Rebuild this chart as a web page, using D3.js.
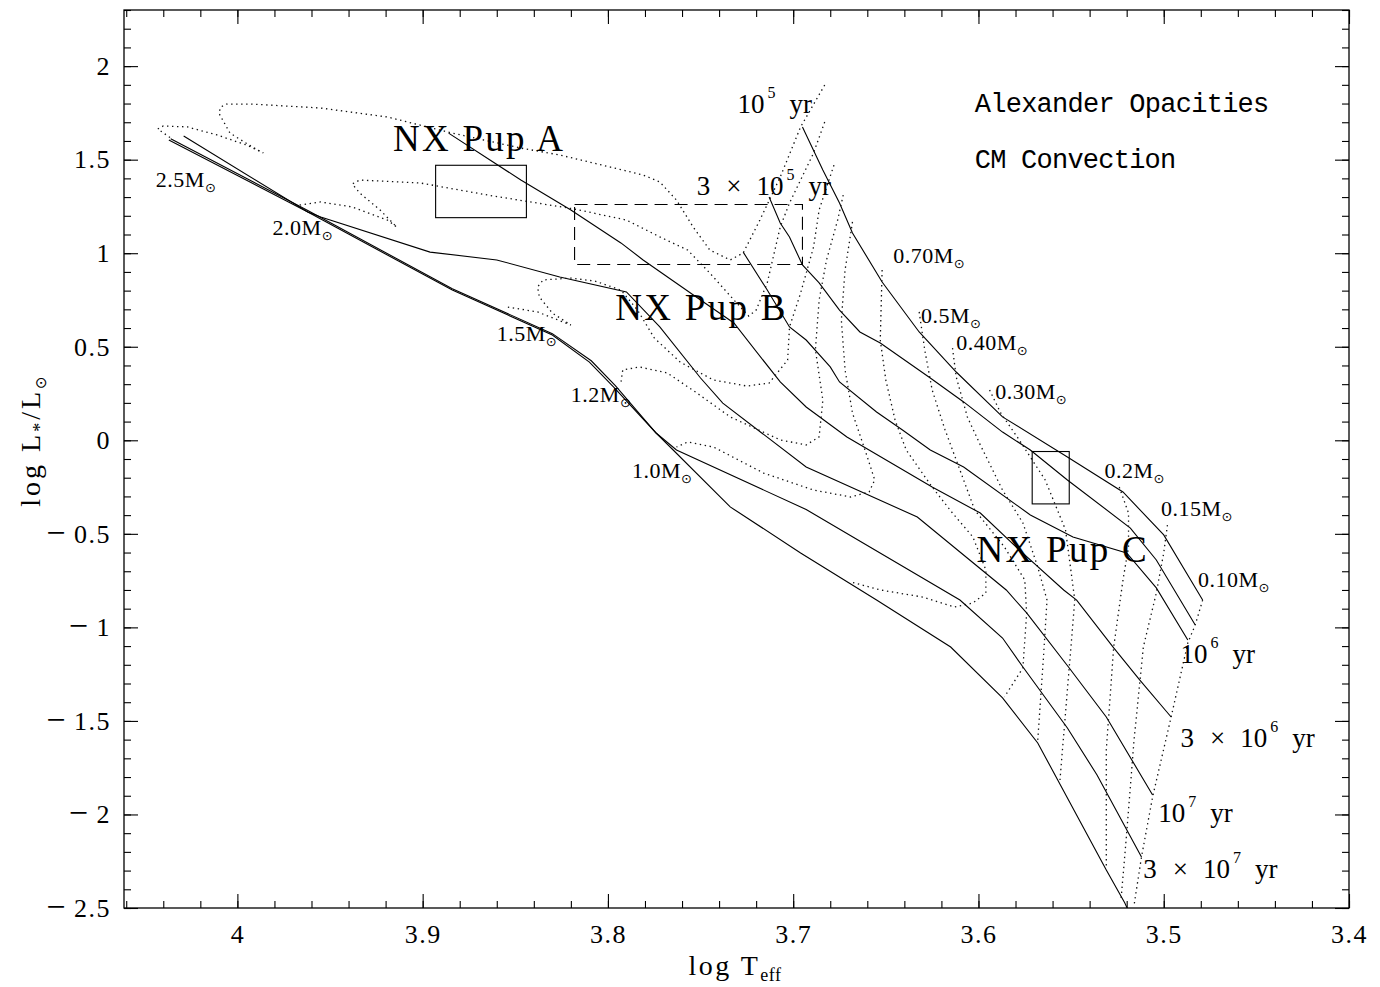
<!DOCTYPE html>
<html>
<head>
<meta charset="utf-8">
<script src="https://cdn.jsdelivr.net/npm/d3@7/dist/d3.min.js"></script>
<style>
  body { margin: 0; background: #fff; }
  text { fill: #000; }
</style>
</head>
<body>
<svg id="chart" width="1380" height="987"></svg>
<script>
// isochrones (solid), points are [log Teff, log L]
const iso1e5 = [[3.695,1.675],[3.684,1.445],[3.675,1.268],[3.668,1.108],[3.652,0.846],[3.632,0.579],[3.612,0.365],[3.587,0.125],[3.552,-0.089],[3.522,-0.276],[3.500,-0.506],[3.479,-0.854]];
const iso3e5 = [[3.713,1.300],[3.707,1.161],[3.702,1.087],[3.695,0.937],[3.686,0.841],[3.675,0.696],[3.664,0.579],[3.653,0.520],[3.626,0.333],[3.608,0.205],[3.587,0.044],[3.572,-0.052],[3.552,-0.212],[3.518,-0.469],[3.504,-0.640],[3.483,-0.987]];
const iso1e6 = [[3.727,1.006],[3.714,0.803],[3.702,0.606],[3.693,0.536],[3.680,0.392],[3.675,0.312],[3.655,0.151],[3.641,0.055],[3.626,-0.052],[3.608,-0.143],[3.572,-0.399],[3.549,-0.517],[3.520,-0.602],[3.504,-0.789],[3.487,-1.067]];
const iso3e6 = [[3.886,1.642],[3.847,1.391],[3.820,1.231],[3.793,1.055],[3.781,0.964],[3.750,0.750],[3.732,0.627],[3.707,0.312],[3.693,0.178],[3.671,0.018],[3.625,-0.250],[3.599,-0.389],[3.578,-0.586],[3.554,-0.800],[3.547,-0.854],[3.527,-1.110],[3.513,-1.281],[3.496,-1.479]];
const iso1e7 = [[4.029,1.626],[3.962,1.220],[3.955,1.193],[3.896,1.006],[3.860,0.964],[3.826,0.873],[3.790,0.793],[3.772,0.606],[3.750,0.333],[3.738,0.199],[3.693,-0.143],[3.633,-0.410],[3.585,-0.800],[3.574,-0.923],[3.551,-1.217],[3.531,-1.479],[3.506,-1.896]];
const iso3e7 = [[4.036,1.612],[3.962,1.228],[3.884,0.810],[3.830,0.570],[3.809,0.425],[3.796,0.292],[3.774,0.039],[3.763,-0.052],[3.693,-0.370],[3.610,-0.854],[3.587,-1.057],[3.576,-1.212],[3.552,-1.538],[3.536,-1.789],[3.512,-2.227]];
const isoOld = [[4.037,1.605],[3.962,1.220],[3.884,0.803],[3.830,0.563],[3.810,0.418],[3.797,0.285],[3.774,0.039],[3.734,-0.356],[3.696,-0.602],[3.655,-0.854],[3.615,-1.105],[3.587,-1.377],[3.568,-1.618],[3.531,-2.297],[3.521,-2.473],[3.5155,-2.593]];

// evolutionary tracks (dotted)
const tr25 = [[3.683,1.899],[3.696,1.675],[3.707,1.407],[3.718,1.177],[3.727,1.001],[3.734,0.964],[3.745,1.017],[3.754,1.140],[3.763,1.284],[3.772,1.381],[3.781,1.418],[3.799,1.461],[3.826,1.525],[3.847,1.562],[3.884,1.642],[3.919,1.728],[3.955,1.776],[3.992,1.797],[4.006,1.797],[4.009,1.781],[4.010,1.749],[4.004,1.642],[3.992,1.568],[3.986,1.536],[3.995,1.578],[4.011,1.632],[4.027,1.675],[4.040,1.680],[4.043,1.664],[4.036,1.616]];
const tr20 = [[3.683,1.701],[3.689,1.536],[3.702,1.268],[3.707,1.140],[3.714,0.841],[3.720,0.696],[3.724,0.664],[3.732,0.750],[3.745,0.894],[3.757,1.017],[3.772,1.087],[3.790,1.177],[3.808,1.215],[3.818,1.236],[3.865,1.311],[3.901,1.375],[3.934,1.391],[3.938,1.370],[3.934,1.322],[3.923,1.231],[3.914,1.140],[3.919,1.177],[3.938,1.247],[3.955,1.274],[3.966,1.258],[3.964,1.226]];
const tr15 = [[3.678,1.471],[3.686,1.231],[3.689,1.033],[3.696,0.787],[3.702,0.606],[3.703,0.429],[3.713,0.306],[3.725,0.290],[3.743,0.322],[3.761,0.418],[3.775,0.547],[3.784,0.696],[3.793,0.803],[3.807,0.851],[3.820,0.867],[3.835,0.857],[3.838,0.819],[3.837,0.766],[3.830,0.680],[3.820,0.616],[3.838,0.686],[3.854,0.712]];
const tr12 = [[3.673,1.311],[3.676,1.177],[3.682,0.964],[3.686,0.750],[3.688,0.483],[3.684,0.215],[3.686,0.018],[3.693,-0.025],[3.707,0.002],[3.734,0.125],[3.752,0.253],[3.768,0.360],[3.783,0.392],[3.792,0.376],[3.793,0.306]];
const tr10 = [[3.668,1.167],[3.672,0.910],[3.674,0.643],[3.672,0.376],[3.668,0.146],[3.660,-0.089],[3.656,-0.212],[3.659,-0.276],[3.669,-0.303],[3.689,-0.266],[3.716,-0.175],[3.743,-0.036],[3.757,-0.009],[3.763,-0.036]];
const tr07 = [[3.652,0.910],[3.653,0.536],[3.650,0.322],[3.645,0.108],[3.639,-0.052],[3.625,-0.250],[3.614,-0.389],[3.603,-0.517],[3.596,-0.693],[3.596,-0.816],[3.603,-0.870],[3.613,-0.891],[3.630,-0.838],[3.653,-0.800],[3.669,-0.757]];
const tr05 = [[3.632,0.686],[3.629,0.483],[3.625,0.269],[3.618,0.055],[3.610,-0.159],[3.602,-0.373],[3.586,-0.570],[3.575,-0.747],[3.574,-0.923],[3.576,-1.217],[3.586,-1.372]];
const tr04 = [[3.614,0.493],[3.612,0.338],[3.606,0.125],[3.599,-0.025],[3.587,-0.266],[3.576,-0.442],[3.568,-0.677],[3.563,-0.854],[3.565,-1.174],[3.568,-1.602]];
const tr03 = [[3.594,0.269],[3.588,0.146],[3.578,0.002],[3.564,-0.212],[3.553,-0.479],[3.548,-0.854],[3.552,-1.335],[3.556,-1.816]];
const tr02 = [[3.524,-0.250],[3.519,-0.389],[3.519,-0.570],[3.522,-0.747],[3.527,-1.105],[3.531,-1.655],[3.531,-2.281]];
const tr015 = [[3.498,-0.453],[3.500,-0.602],[3.504,-0.816],[3.511,-1.105],[3.516,-1.600],[3.520,-2.100],[3.523,-2.450]];
const tr01 = [[3.479,-0.854],[3.483,-0.987],[3.487,-1.083],[3.496,-1.479],[3.506,-1.906],[3.512,-2.227],[3.516,-2.484]];

const isochrones = [iso1e5, iso3e5, iso1e6, iso3e6, iso1e7, iso3e7, isoOld];
const tracks = [tr25, tr20, tr15, tr12, tr10, tr07, tr05, tr04, tr03, tr02, tr015, tr01];

// observed boxes: [Tmax, Tmin, Lmin, Lmax]
const boxA = [3.893, 3.844, 1.19, 1.47];
const boxB = [3.818, 3.695, 0.94, 1.26];
const boxC = [3.571, 3.551, -0.34, -0.06];

const massLabels = [
  {m: "2.5", T: 4.044, L: 1.354},
  {m: "2.0", T: 3.981, L: 1.097},
  {m: "1.5", T: 3.860, L: 0.531},
  {m: "1.2", T: 3.820, L: 0.205},
  {m: "1.0", T: 3.787, L: -0.202},
  {m: "0.70", T: 3.646, L: 0.948},
  {m: "0.5", T: 3.631, L: 0.627},
  {m: "0.40", T: 3.612, L: 0.483},
  {m: "0.30", T: 3.591, L: 0.221},
  {m: "0.2", T: 3.532, L: -0.202},
  {m: "0.15", T: 3.5015, L: -0.405},
  {m: "0.10", T: 3.4815, L: -0.784}
];
const ageLabels = [
  {three: false, exp: "5", T: 3.730, L: 1.749},
  {three: true, exp: "5", T: 3.752, L: 1.311},
  {three: false, exp: "6", T: 3.491, L: -1.190},
  {three: true, exp: "6", T: 3.491, L: -1.639},
  {three: false, exp: "7", T: 3.503, L: -2.040},
  {three: true, exp: "7", T: 3.511, L: -2.340}
];
const starLabels = [
  {name: "NX Pup A", T: 3.916, L: 1.545},
  {name: "NX Pup B", T: 3.796, L: 0.643},
  {name: "NX Pup C", T: 3.601, L: -0.650}
];
const notes = [
  {text: "Alexander Opacities", T: 3.602, L: 1.757},
  {text: "CM Convection", T: 3.602, L: 1.455}
];

const xTicks = [4, 3.9, 3.8, 3.7, 3.6, 3.5, 3.4];
const yTicks = [2, 1.5, 1, 0.5, 0, -0.5, -1, -1.5, -2, -2.5];

const svg = d3.select("#chart");
const pLeft = 124, pRight = 1349, pTop = 10, pBottom = 908;

const x = d3.scaleLinear().domain([4.0612, 3.4]).range([pLeft, pRight]);
const y = d3.scaleLinear().domain([-2.5, 2.3]).range([pBottom, pTop]);

const serif = "'Liberation Serif', 'DejaVu Serif', serif";
const symFont = "'DejaVu Sans', sans-serif";

svg.append("clipPath").attr("id", "plotclip")
  .append("rect").attr("x", pLeft).attr("y", pTop)
  .attr("width", pRight - pLeft).attr("height", pBottom - pTop);

const plot = svg.append("g").attr("clip-path", "url(#plotclip)");
const line = d3.line().x(d => x(d[0])).y(d => y(d[1]));

plot.selectAll("path.iso")
  .data(isochrones)
  .join("path")
  .attr("class", "iso")
  .attr("d", line)
  .attr("fill", "none")
  .attr("stroke", "#000")
  .attr("stroke-width", 1.1);

plot.selectAll("path.track")
  .data(tracks)
  .join("path")
  .attr("class", "track")
  .attr("d", line)
  .attr("fill", "none")
  .attr("stroke", "#111")
  .attr("stroke-width", 1.3)
  .attr("stroke-dasharray", "1.4,3.6");

// error boxes
const boxRect = (b) => ({x: x(b[0]), y: y(b[3]), w: x(b[1]) - x(b[0]), h: y(b[2]) - y(b[3])});
[boxA, boxC].forEach(b => {
  const r = boxRect(b);
  plot.append("rect").attr("x", r.x).attr("y", r.y).attr("width", r.w).attr("height", r.h)
    .attr("fill", "none").attr("stroke", "#000").attr("stroke-width", 1.1);
});
{
  const r = boxRect(boxB);
  plot.append("rect").attr("x", r.x).attr("y", r.y).attr("width", r.w).attr("height", r.h)
    .attr("fill", "none").attr("stroke", "#000").attr("stroke-width", 1.1)
    .attr("stroke-dasharray", "13,7");
}

// axes, ticks pointing inward on all four sides
const minorX = d3.range(4.06, 3.399, -0.02).map(v => +v.toFixed(2));
const minorY = d3.range(-2.5, 2.31, 0.1).map(v => +v.toFixed(1));

function styleAxis(g) {
  g.select(".domain").remove();
  g.selectAll(".tick line").attr("stroke", "#000").attr("stroke-width", 1.1);
  g.selectAll("text").attr("font-family", serif).attr("font-size", 26)
    .attr("letter-spacing", 1.5).attr("fill", "#000");
}

// long minus sign in front of negative tick labels
function minusLabels(g) {
  g.selectAll(".tick text").each(function (d) {
    if (d >= 0) return;
    const t = d3.select(this).attr("dy", null).text(null);
    t.append("tspan").attr("font-size", 34).attr("dy", 9.3).text("\u2212");
    t.append("tspan").attr("dx", 7).attr("dy", -1).text(Math.abs(d));
  });
}

svg.append("g").attr("transform", `translate(0,${pBottom})`)
  .call(d3.axisBottom(x).tickValues(minorX).tickSize(-7).tickFormat(""))
  .call(styleAxis);
svg.append("g").attr("transform", `translate(0,${pBottom})`)
  .call(d3.axisBottom(x).tickValues(xTicks).tickSize(-14).tickPadding(17).tickFormat(d => String(d)))
  .call(styleAxis);
svg.append("g").attr("transform", `translate(0,${pTop})`)
  .call(d3.axisTop(x).tickValues(minorX).tickSize(-7).tickFormat(""))
  .call(styleAxis);
svg.append("g").attr("transform", `translate(0,${pTop})`)
  .call(d3.axisTop(x).tickValues(xTicks).tickSize(-14).tickFormat(""))
  .call(styleAxis);

svg.append("g").attr("transform", `translate(${pLeft},0)`)
  .call(d3.axisLeft(y).tickValues(minorY).tickSize(-7).tickFormat(""))
  .call(styleAxis);
svg.append("g").attr("transform", `translate(${pLeft},0)`)
  .call(d3.axisLeft(y).tickValues(yTicks).tickSize(-14).tickPadding(13).tickFormat(d => String(d)))
  .call(styleAxis)
  .call(minusLabels);
svg.append("g").attr("transform", `translate(${pRight},0)`)
  .call(d3.axisRight(y).tickValues(minorY).tickSize(-7).tickFormat(""))
  .call(styleAxis);
svg.append("g").attr("transform", `translate(${pRight},0)`)
  .call(d3.axisRight(y).tickValues(yTicks).tickSize(-14).tickFormat(""))
  .call(styleAxis);

svg.append("rect").attr("x", pLeft).attr("y", pTop)
  .attr("width", pRight - pLeft).attr("height", pBottom - pTop)
  .attr("fill", "none").attr("stroke", "#000").attr("stroke-width", 1.3);

// axis titles
const xt = svg.append("text").attr("x", 735).attr("y", 975)
  .attr("text-anchor", "middle").attr("font-family", serif).attr("font-size", 28)
  .attr("letter-spacing", 2.5);
xt.append("tspan").text("log T");
xt.append("tspan").attr("font-size", 18).attr("dy", 6).attr("letter-spacing", 0.5).text("eff");

const yt = svg.append("text").attr("transform", "translate(40,440) rotate(-90)")
  .attr("text-anchor", "middle").attr("font-family", serif).attr("font-size", 28)
  .attr("letter-spacing", 3);
yt.append("tspan").text("log L");
yt.append("tspan").attr("font-size", 18).attr("dy", 6).text("*");
yt.append("tspan").attr("dy", -6).text("/L");
yt.append("tspan").attr("font-size", 15).attr("dy", 6)
  .attr("font-family", symFont).text("\u2299");

// mass labels
massLabels.forEach(d => {
  const t = svg.append("text").attr("x", x(d.T)).attr("y", y(d.L))
    .attr("font-family", serif).attr("font-size", 22).attr("letter-spacing", 0.5);
  t.append("tspan").text(d.m + "M");
  t.append("tspan").attr("font-size", 13).attr("dy", 5)
    .attr("font-family", symFont).text("\u2299");
});

// age labels
ageLabels.forEach(d => {
  const t = svg.append("text").attr("x", x(d.T)).attr("y", y(d.L))
    .attr("font-family", serif).attr("font-size", 27);
  if (d.three) {
    t.append("tspan").text("3");
    t.append("tspan").attr("dx", 16).text("\u00d7");
    t.append("tspan").attr("dx", 15).text("10");
  } else {
    t.append("tspan").text("10");
  }
  t.append("tspan").attr("font-size", 16).attr("dy", -15).attr("dx", 3).text(d.exp);
  t.append("tspan").attr("dy", 15).attr("dx", 14).text("yr");
});

// star names
svg.selectAll("text.star")
  .data(starLabels)
  .join("text")
  .attr("class", "star")
  .attr("x", d => x(d.T)).attr("y", d => y(d.L))
  .attr("font-family", serif).attr("font-size", 37)
  .attr("textLength", 170).attr("lengthAdjust", "spacing")
  .text(d => d.name);

svg.selectAll("text.note")
  .data(notes)
  .join("text")
  .attr("class", "note")
  .attr("x", d => x(d.T)).attr("y", d => y(d.L))
  .attr("font-family", "'Liberation Mono', 'DejaVu Sans Mono', monospace")
  .attr("font-size", 27)
  .attr("textLength", d => d.text.length * 15.5).attr("lengthAdjust", "spacing")
  .text(d => d.text);
</script>
</body>
</html>
